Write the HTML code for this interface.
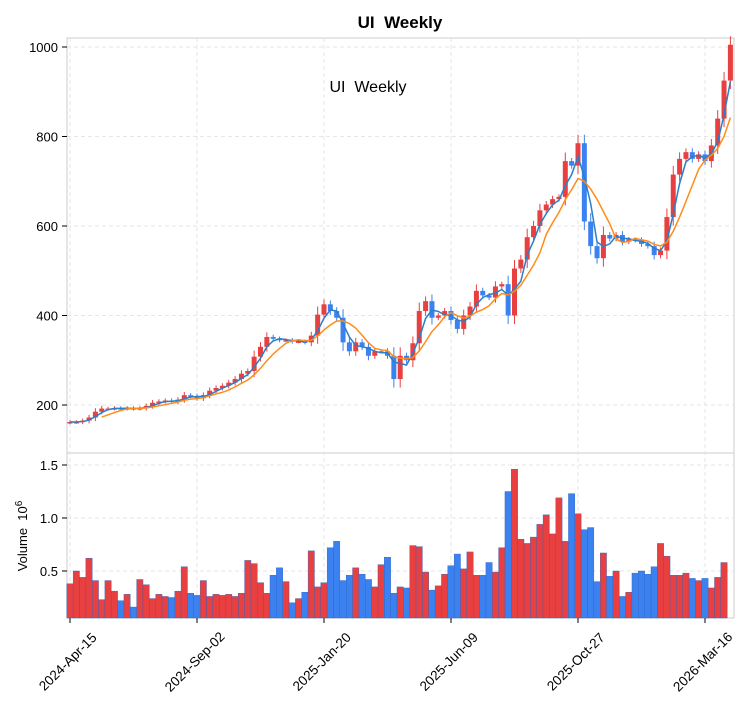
<!DOCTYPE html>
<html><head><meta charset="utf-8"><style>
body{margin:0;background:#fff;}
svg text{font-family:"Liberation Sans",sans-serif;white-space:pre;}
</style></head><body>
<svg id="s" width="754" height="712" xmlns="http://www.w3.org/2000/svg"></svg>
<script>
const C=[162,162,165,172,185,192,192,193,192,193,192,193,198,205,208,210,207,212,222,220,215,222,232,238,243,250,258,270,276,308,330,352,348,345,345,342,342,340,355,402,425,410,395,340,320,340,330,310,320,320,310,258,310,300,338,410,432,395,400,410,390,370,400,420,455,445,440,465,470,400,505,525,575,600,635,648,660,665,745,735,785,610,555,528,580,572,580,565,570,568,560,555,535,545,620,715,750,765,750,760,745,780,840,925,1005];
const V=[0.38,0.5,0.44,0.62,0.41,0.23,0.41,0.31,0.22,0.28,0.16,0.42,0.37,0.24,0.28,0.26,0.25,0.31,0.54,0.29,0.27,0.41,0.26,0.28,0.27,0.28,0.26,0.29,0.6,0.57,0.39,0.29,0.46,0.53,0.4,0.2,0.24,0.3,0.69,0.35,0.39,0.72,0.78,0.41,0.46,0.53,0.47,0.42,0.35,0.56,0.63,0.29,0.35,0.34,0.74,0.73,0.49,0.32,0.36,0.47,0.55,0.66,0.52,0.68,0.46,0.46,0.58,0.49,0.72,1.25,1.46,0.8,0.76,0.82,0.94,1.03,0.85,1.19,0.78,1.23,1.04,0.89,0.91,0.4,0.67,0.45,0.5,0.26,0.3,0.48,0.5,0.47,0.54,0.76,0.64,0.46,0.46,0.48,0.43,0.41,0.43,0.34,0.44,0.58];
const X=i=>70+6.35*i, Y=p=>405-(p-200)*0.4475, VY=v=>624-106*v;
let h='';
h+='<rect x="67" y="38" width="667" height="580" fill="none" stroke="#ccc"/><line x1="67" y1="453" x2="734" y2="453" stroke="#ccc"/>';
[200,400,600,800,1000].forEach(p=>{h+=`<line x1="67" x2="734" y1="${Y(p)}" y2="${Y(p)}" stroke="#e6e6e6" stroke-dasharray="4,3"/><line x1="62" x2="67" y1="${Y(p)}" y2="${Y(p)}" stroke="#000"/><text x="58" y="${Y(p)+5}" font-size="13" text-anchor="end">${p}</text>`});
[0.5,1.0,1.5].forEach(v=>{h+=`<line x1="67" x2="734" y1="${VY(v)}" y2="${VY(v)}" stroke="#e6e6e6" stroke-dasharray="4,3"/><line x1="62" x2="67" y1="${VY(v)}" y2="${VY(v)}" stroke="#000"/><text x="58" y="${VY(v)+5}" font-size="13" text-anchor="end">${v.toFixed(1)}</text>`});
const L=['2024-Apr-15','2024-Sep-02','2025-Jan-20','2025-Jun-09','2025-Oct-27','2026-Mar-16'];
L.forEach((t,k)=>{const x=70+127*k;h+=`<line x1="${x}" x2="${x}" y1="38" y2="618" stroke="#e6e6e6" stroke-dasharray="4,3"/><line x1="${x}" x2="${x}" y1="618" y2="623" stroke="#000"/><text font-size="13.5" text-anchor="middle" transform="translate(${x+1},${665}) rotate(-45)">${t}</text>`});
C.forEach((c,i)=>{const o=i?C[i-1]:c-1;const up=c>=o;const col=up?'#e84040':'#3b82f0';const x=X(i);
const hi=Math.max(o,c)+Math.min(Math.abs(c-o)*0.3,15)+4,lo=Math.min(o,c)-Math.min(Math.abs(c-o)*0.3,15)-4;
h+=`<line x1="${x}" x2="${x}" y1="${Y(hi)}" y2="${Y(lo)}" stroke="${col}"/><rect x="${x-2.5}" y="${Y(Math.max(o,c))}" width="5" height="${Math.max(1.5,Math.abs(c-o)*0.4475)}" fill="${col}"/>`;
h+=`<rect x="${x-3.2}" y="${VY(V[i])}" width="6.35" height="${618-VY(V[i])}" fill="${col}" stroke="#3060c0" stroke-width="0.4"/>`;});
let b='',o='';C.forEach((c,i)=>{const a=C.slice(Math.max(0,i-2),i+1);const m=a.reduce((s,v)=>s+v,0)/a.length;b+=(i?'L':'M')+X(i)+','+Y(m);
if(i>=5){const a2=C.slice(i-5,i+1);const m2=a2.reduce((s,v)=>s+v,0)/6;o+=(i>5?'L':'M')+X(i)+','+Y(m2);}});
h+=`<path d="${b}" fill="none" stroke="#2a7fc9" stroke-width="1.5"/><path d="${o}" fill="none" stroke="#ff8c1a" stroke-width="1.5"/>`;
h+='<text x="400" y="28" font-size="17" font-weight="bold" text-anchor="middle">UI&#160;&#160;Weekly</text><text x="368" y="92" font-size="16" text-anchor="middle">UI&#160;&#160;Weekly</text>';
h+='<text font-size="13" text-anchor="middle" transform="translate(27,536) rotate(-90)">Volume&#160;&#160;10<tspan dy="-5" font-size="10">6</tspan></text>';
document.getElementById('s').innerHTML=h;
</script>
</body></html>
